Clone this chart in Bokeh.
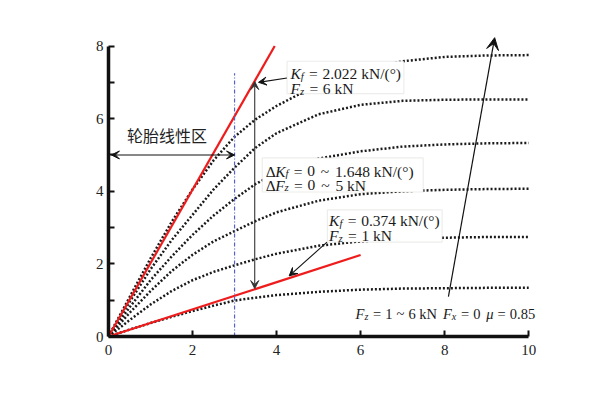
import math
from bokeh.plotting import figure
from bokeh.models import Label, BoxAnnotation, Arrow, VeeHead, FixedTicker
from bokeh.embed import file_html
from bokeh.resources import INLINE

# ---------------- data ----------------
slip_angle = [0, 0.5, 1, 1.5, 2, 2.5, 3, 3.5, 4, 5, 6, 7, 8, 9, 10]
fz_1kN = [0, 0.19, 0.37, 0.54, 0.70, 0.85, 0.99, 1.07, 1.14, 1.23, 1.29, 1.32, 1.33, 1.34, 1.34]
fz_2kN = [0, 0.45, 0.88, 1.25, 1.55, 1.78, 1.96, 2.13, 2.28, 2.50, 2.62, 2.69, 2.72, 2.74, 2.74]
fz_3kN = [0, 0.65, 1.25, 1.80, 2.25, 2.62, 2.90, 3.18, 3.42, 3.74, 3.92, 4.00, 4.04, 4.06, 4.07]
fz_4kN = [0, 0.80, 1.55, 2.20, 2.80, 3.33, 3.79, 4.20, 4.50, 4.90, 5.10, 5.23, 5.29, 5.32, 5.33]
fz_5kN = [0, 0.95, 1.85, 2.65, 3.35, 4.05, 4.65, 5.20, 5.60, 6.12, 6.38, 6.49, 6.52, 6.53, 6.53]
fz_6kN = [0, 1.08, 2.15, 3.15, 4.05, 4.85, 5.50, 5.98, 6.35, 6.95, 7.35, 7.58, 7.70, 7.74, 7.75]
curves = [fz_1kN, fz_2kN, fz_3kN, fz_4kN, fz_5kN, fz_6kN]

stiffness = [2.022, 0.374]          # kN/deg, Fz = 6 kN and Fz = 1 kN
stiff_line_end = [3.956, 6.0]       # deg
linear_zone_limit = 3.0             # deg
linear_zone_top = 7.25

x_ticks = [0, 2, 4, 6, 8, 10]
y_ticks = [0, 2, 4, 6, 8]
y_minor = [1, 3, 5, 7]

# ---------------- figure ----------------
W, H = 582, 385
BL, BT = 108, 31
XMAX, YMAX = 10.4, 8.4
FRAME_W, FRAME_H = 436.8, 305.0
BR = W - BL - FRAME_W
BB = H - BT - FRAME_H
PX_X = FRAME_W / XMAX
PX_Y = FRAME_H / YMAX

p = figure(width=W, height=H, x_range=(0, XMAX), y_range=(0, YMAX),
           output_backend="svg", toolbar_location=None,
           min_border_left=BL, min_border_right=int(round(BR)),
           min_border_top=BT, min_border_bottom=int(round(BB)))
p.outline_line_color = None
p.grid.visible = False
p.background_fill_color = "white"

SERIF = "Liberation Serif"
for ax in (p.xaxis[0], p.yaxis[0]):
    ax.axis_line_width = 3.5
    ax.axis_line_color = "#111111"
    ax.major_tick_in = 6
    ax.major_tick_out = 0
    ax.major_tick_line_width = 2
    ax.major_tick_line_color = "#111111"
    ax.minor_tick_in = 6
    ax.minor_tick_out = 0
    ax.minor_tick_line_width = 2
    ax.minor_tick_line_color = "#111111"
    ax.major_label_text_font = SERIF
    ax.major_label_text_font_size = "15px"
    ax.major_label_text_color = "#222222"

p.xaxis[0].ticker = FixedTicker(ticks=x_ticks)
p.xaxis[0].minor_tick_line_color = None
p.xaxis[0].bounds = (0, 10)
p.xaxis[0].major_label_standoff = 8
p.yaxis[0].ticker = FixedTicker(ticks=y_ticks, minor_ticks=y_minor)
p.yaxis[0].bounds = (0, 8)
p.yaxis[0].major_label_standoff = 5

# ---------------- curves ----------------
for ys in curves:
    p.line(slip_angle, ys, line_color="#1a1a1a", line_width=2.5, line_dash="2 2")

for k, xe in zip(stiffness, stiff_line_end):
    p.line([0, xe], [0, k * xe], line_color="#ee1c1c", line_width=2.2)

p.segment(x0=[linear_zone_limit], y0=[0], x1=[linear_zone_limit], y1=[linear_zone_top],
          line_color="#5560c8", line_width=1.2, line_dash="4 2 1 2")

# ---------------- arrows ----------------
def arrow(x0, y0, x1, y1, both=False, size=8, color="#111111", width=1.1):
    head = lambda: VeeHead(size=size, fill_color=color, line_color=color, line_width=1)
    p.add_layout(Arrow(x_start=x0, y_start=y0, x_end=x1, y_end=y1,
                       start=head() if both else None, end=head(),
                       line_color=color, line_width=width))

arrow(3.0, 5.0, 0.07, 5.0, both=True)
arrow(3.48, 1.32, 3.48, 7.02, both=True, color="#333333")
arrow(4.25, 7.12, 3.57, 7.0)
arrow(5.2, 2.6, 4.3, 1.67)
arrow(8.09, 1.10, 9.19, 8.23, size=12, width=1.2)

# ---------------- boxes ----------------
boxes = [(4.25, 7.03, 6.69, 7.58), (3.66, 7.49, 3.98, 4.92), (5.21, 7.94, 2.60, 3.49)]
for l, r, b, t in boxes:
    p.add_layout(BoxAnnotation(left=l, right=r, bottom=b, top=t,
                               fill_color="white", fill_alpha=1.0,
                               line_color="#c4c4bc", line_width=1.2))

# ---------------- rich text helper ----------------
ROMAN = {' ': 250, '=': 564, '.': 250, 'k': 500, 'N': 722, '/': 278, '(': 333,
         ')': 333, '°': 400, '~': 541, 'Δ': 612}
ITAL = {'K': 667, 'f': 278, 'z': 389, 'F': 611, 'x': 444, 'μ': 500}

def tw(txt, size, italic):
    tot = 0
    for ch in txt:
        if ch.isdigit():
            tot += 500
        else:
            tot += (ITAL if italic else ROMAN).get(ch, ROMAN.get(ch, 500))
    return tot / 1000 * size

def rich(x, y, parts, size=15.5):
    cur = 0.0
    for part in parts:
        if isinstance(part, (int, float)):
            cur += part * size
            continue
        txt, kind = part
        fs = size * 0.7 if kind == 's' else size
        shift = -0.14 * size if kind == 's' else 0
        italic = kind in ('i', 's')
        p.add_layout(Label(x=x + cur / PX_X, y=y + shift / PX_Y, text=txt,
                           text_font=SERIF, text_font_size=f"{fs:.1f}px",
                           text_font_style="italic" if italic else "normal",
                           text_baseline="alphabetic", text_align="left",
                           text_color="#1a1a1a"))
        cur += tw(txt, fs, italic) + (0.04 * size if kind == 's' else 0)

EQ = [0.3, ("=", 'r'), 0.3]
TL = [0.38, ("~", 'r'), 0.38]
rich(4.33, 7.23, [("K", 'i'), ("f", 's')] + EQ + [("2.022 kN/(°)", 'r')])
rich(4.33, 6.83, [("F", 'i'), ("z", 's')] + EQ + [("6 kN", 'r')])
rich(3.74, 4.55, [("Δ", 'r'), ("K", 'i'), ("f", 's')] + EQ + [("0", 'r')] + TL + [("1.648 kN/(°)", 'r')])
rich(3.74, 4.17, [("Δ", 'r'), ("F", 'i'), ("z", 's')] + EQ + [("0", 'r')] + TL + [("5 kN", 'r')])
rich(5.25, 3.19, [("K", 'i'), ("f", 's')] + EQ + [("0.374 kN/(°)", 'r')])
rich(5.25, 2.77, [("F", 'i'), ("z", 's')] + EQ + [("1 kN", 'r')])
G, S = 0.28, 0.4
rich(5.88, 0.61, [("F", 'i'), ("z", 's'), G, ("=", 'r'), G, ("1", 'r'), G, ("~", 'r'), G,
                  ("6 kN", 'r'), S, ("F", 'i'), ("x", 's'), G, ("=", 'r'), G, ("0", 'r'), S,
                  ("μ", 'i'), G, ("=", 'r'), G, ("0.85", 'r')], size=14.5)

p.add_layout(Label(x=0.44, y=5.55, text="轮胎线性区", text_font="Noto Sans CJK SC",
                   text_font_size="16px", text_color="#222222", text_baseline="alphabetic"))

# axis titles
p.add_layout(Label(x=5.12, y=-0.99, text="侧偏角 /(°)", text_font="Noto Sans CJK SC",
                   text_font_size="15px", text_color="#222222",
                   text_align="center", text_baseline="middle"))
p.add_layout(Label(x=-0.78, y=3.94, text="侧向力 / kN", text_font="Noto Sans CJK SC",
                   text_font_size="15px", text_color="#222222", angle=math.pi / 2,
                   text_align="center", text_baseline="middle"))

open("out.html", "w").write(file_html(p, INLINE))
